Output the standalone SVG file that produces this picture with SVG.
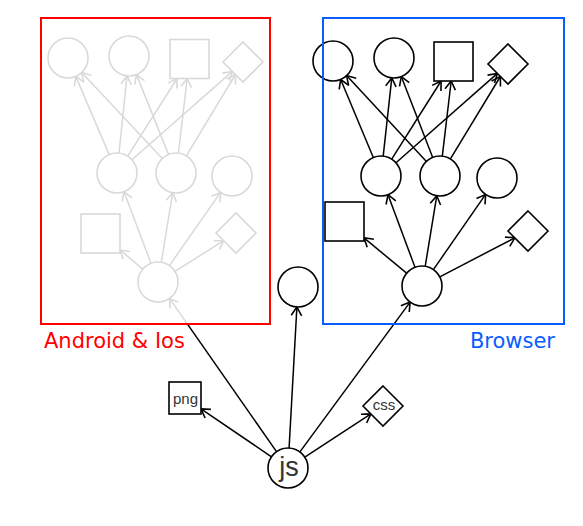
<svg xmlns="http://www.w3.org/2000/svg" width="583" height="526" viewBox="0 0 583 526">
<style>
.e{fill:none;stroke:#000;stroke-width:1.5;marker-end:url(#arr)}
.n{fill:#fff;stroke:#000;stroke-width:1.6}
.lbl{font-family:"DejaVu Sans",Verdana,sans-serif;font-size:21px}
.t{font-family:"Liberation Sans",Arial,sans-serif;fill:#333;text-anchor:middle}
</style>
<defs>
<marker id="arr" viewBox="-11 -7 13 14" refX="0" refY="0" markerWidth="13" markerHeight="14" orient="auto" markerUnits="userSpaceOnUse" overflow="visible">
<path d="M-8.5,-5.2 L0,0 L-8.5,5.2" fill="none" stroke="#000" stroke-width="1.6"/>
</marker>
</defs>
<rect width="583" height="526" fill="#fff"/>
<g id="connectors">
<line class="e" x1="109.2" y1="154.6" x2="75.8" y2="76.4"/>
<line class="e" x1="119" y1="153.1" x2="127" y2="75.9"/>
<line class="e" x1="127.7" y1="156.1" x2="177.1" y2="78.5"/>
<line class="e" x1="132" y1="159.8" x2="232.4" y2="71.4"/>
<line class="e" x1="162.3" y1="158.4" x2="81.7" y2="72.6"/>
<line class="e" x1="168.5" y1="154.4" x2="136.5" y2="74.6"/>
<line class="e" x1="178.4" y1="153.1" x2="187.2" y2="78.5"/>
<line class="e" x1="186.3" y1="155.9" x2="235.5" y2="74.5"/>
<line class="e" x1="151" y1="263.3" x2="124" y2="191.7"/>
<line class="e" x1="161.3" y1="262.3" x2="172.7" y2="192.7"/>
<line class="e" x1="169.4" y1="265.6" x2="220.6" y2="192.4"/>
<line class="e" x1="142.7" y1="269.1" x2="120" y2="249.9"/>
<line class="e" x1="174.9" y1="271.4" x2="223.7" y2="240.7"/>
<line class="e" x1="276.5" y1="451.6" x2="169.5" y2="298.4"/>
<line class="e" x1="373.3" y1="157.5" x2="340.7" y2="79.5"/>
<line class="e" x1="383.2" y1="156.1" x2="391.8" y2="77.9"/>
<line class="e" x1="391.7" y1="159.1" x2="441.1" y2="81"/>
<line class="e" x1="396" y1="162.8" x2="497.4" y2="73.4"/>
<line class="e" x1="426.4" y1="161.4" x2="346.6" y2="75.6"/>
<line class="e" x1="432.7" y1="157.4" x2="401.3" y2="76.6"/>
<line class="e" x1="442.3" y1="156.1" x2="451.2" y2="81"/>
<line class="e" x1="450.4" y1="158.9" x2="500.4" y2="76.5"/>
<line class="e" x1="415" y1="267.3" x2="388" y2="194.7"/>
<line class="e" x1="425.2" y1="266.3" x2="436.8" y2="195.7"/>
<line class="e" x1="433.4" y1="269.6" x2="485.6" y2="194.4"/>
<line class="e" x1="406.6" y1="273.2" x2="364" y2="237.8"/>
<line class="e" x1="439.8" y1="276.8" x2="514.9" y2="237.8"/>
<line class="e" x1="299.9" y1="451.9" x2="410.1" y2="302.1"/>
<line class="e" x1="289.1" y1="448" x2="296.9" y2="307"/>
<line class="e" x1="271.5" y1="456.8" x2="201" y2="408.9"/>
<line class="e" x1="304.8" y1="457.1" x2="370.9" y2="413.9"/>
</g>
<g id="android-nodes">
<g id="a-top1"><circle class="n" cx="68" cy="58" r="20"/></g>
<g id="a-top2"><circle class="n" cx="129" cy="56" r="20"/></g>
<g id="a-top3"><rect class="n" x="170" y="39.5" width="39" height="39"/></g>
<g id="a-top4"><polygon class="n" points="243,42 263,62 243,82 223,62"/></g>
<g id="a-mid1"><circle class="n" cx="117" cy="173" r="20"/></g>
<g id="a-mid2"><circle class="n" cx="176" cy="173" r="20"/></g>
<g id="a-mid3"><circle class="n" cx="232" cy="176" r="20"/></g>
<g id="a-sq"><rect class="n" x="81" y="214" width="39" height="39"/></g>
<g id="a-dia"><polygon class="n" points="236,213 256,233 236,253 216,233"/></g>
<g id="a-root"><circle class="n" cx="158" cy="282" r="20"/></g>
</g>
<rect id="android-fade" x="41" y="18" width="229" height="306" fill="#fff" fill-opacity="0.85"/>
<g id="browser-nodes">
<g id="b-top1"><circle class="n" cx="333" cy="61" r="20"/></g>
<g id="b-top2"><circle class="n" cx="394" cy="58" r="20"/></g>
<g id="b-top3"><rect class="n" x="434" y="42" width="39" height="39"/></g>
<g id="b-top4"><polygon class="n" points="508,44 528,64 508,84 488,64"/></g>
<g id="b-mid1"><circle class="n" cx="381" cy="176" r="20"/></g>
<g id="b-mid2"><circle class="n" cx="440" cy="176" r="20"/></g>
<g id="b-mid3"><circle class="n" cx="497" cy="178" r="20"/></g>
<g id="b-sq"><rect class="n" x="325" y="202" width="39" height="39"/></g>
<g id="b-dia"><polygon class="n" points="528,211 548,231 528,251 508,231"/></g>
<g id="b-root"><circle class="n" cx="422" cy="286" r="20"/></g>
</g>
<g id="lone"><circle class="n" cx="298" cy="287" r="20"/></g>
<g id="png"><rect class="n" x="169" y="382" width="32" height="32"/><text class="t" x="185.5" y="404" font-size="15">png</text></g>
<g id="css"><polygon class="n" points="383,386 403,406 383,426 363,406"/><text class="t" x="384" y="410" font-size="15">css</text></g>
<g id="js"><circle class="n" cx="288" cy="468" r="20"/><text class="t" x="289" y="476" font-size="27" fill="#444">js</text></g>
<g id="android-box"><rect x="41" y="18" width="229" height="306" fill="none" stroke="#f00" stroke-width="2"/><text class="lbl" x="44" y="348" fill="#f00">Android &amp; Ios</text></g>
<g id="browser-box"><rect x="323" y="18" width="241" height="306" fill="none" stroke="#0a5cff" stroke-width="2"/><text class="lbl" x="555" y="348" fill="#0a5cff" text-anchor="end">Browser</text></g>
</svg>
